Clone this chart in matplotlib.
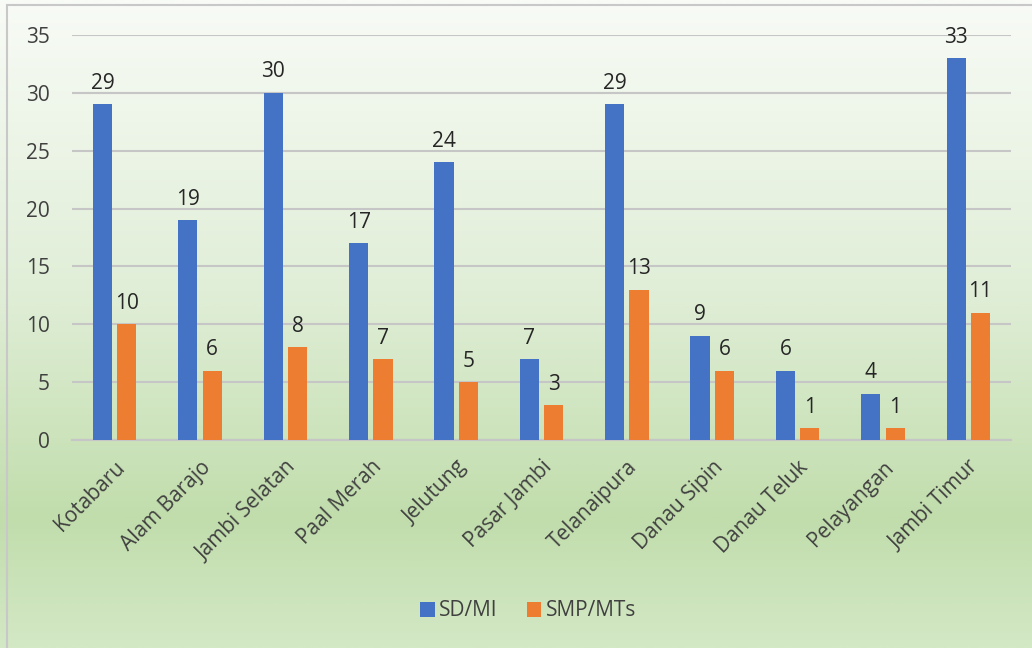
import numpy as np
import matplotlib
matplotlib.use("Agg")
import matplotlib.pyplot as plt
from matplotlib.colors import LinearSegmentedColormap
from matplotlib.patches import Rectangle, Patch

plt.rcParams['font.family'] = ['Open Sans', 'DejaVu Sans']

categories = ["Kotabaru", "Alam Barajo", "Jambi Selatan", "Paal Merah", "Jelutung",
              "Pasar Jambi", "Telanaipura", "Danau Sipin", "Danau Teluk",
              "Pelayangan", "Jambi Timur"]
sd_mi = [29, 19, 30, 17, 24, 7, 29, 9, 6, 4, 33]
smp_mts = [10, 6, 8, 7, 5, 3, 13, 6, 1, 1, 11]
series_names = ["SD/MI", "SMP/MTs"]
colors = ["#4472C4", "#ED7D31"]
yticks = [0, 5, 10, 15, 20, 25, 30, 35]

FS = 15
W, H = 1032, 648
fig = plt.figure(figsize=(W / 100, H / 100), dpi=100)

# background gradient
bg = fig.add_axes([0, 0, 1, 1], zorder=0)
bg.set_axis_off()
cmap = LinearSegmentedColormap.from_list(
    "bg", [(0.0, "#f8fbf6"), (0.45, "#e0eed7"), (0.80, "#c1ddac"), (1.0, "#d3e8c5")])
grad = np.linspace(0, 1, 512).reshape(-1, 1)
bg.imshow(grad, aspect="auto", cmap=cmap, extent=[0, 1, 0, 1], origin="upper")
bg.set_xlim(0, 1)
bg.set_ylim(0, 1)
bg.add_patch(Rectangle((7 / W, -0.01), 1.01 - 7 / W, 1 - 5 / H + 0.01,
                       fill=False, edgecolor="#c8c8c8", linewidth=1.5))

ax = fig.add_axes([72 / W, 1 - 440 / H, (1011 - 72) / W, (440 - 35) / H], zorder=1)
ax.patch.set_alpha(0)

x = np.arange(len(categories))
bw = 0.225
gap = 0.06
off = bw / 2 + gap / 2
b1 = ax.bar(x - off, sd_mi, bw, color=colors[0], zorder=3)
b2 = ax.bar(x + off, smp_mts, bw, color=colors[1], zorder=3)

for bars, vals in ((b1, sd_mi), (b2, smp_mts)):
    for r, v in zip(bars, vals):
        ax.text(r.get_x() + r.get_width() / 2, v + 0.9, str(v), ha="center", va="bottom",
                fontsize=FS, color="#262626")

ax.set_xlim(-0.5, len(categories) - 0.5)
ax.set_ylim(0, 35)
ax.set_yticks(yticks)
ax.set_yticklabels([str(t) for t in yticks], fontsize=FS, color="#404040")
ax.yaxis.grid(True, color="#c6c6c6", linewidth=1.5, zorder=0)
ax.set_axisbelow(True)
for s in ("top", "right", "left"):
    ax.spines[s].set_visible(False)
ax.spines["bottom"].set_color("#c6c6c6")
ax.spines["bottom"].set_linewidth(1.5)
ax.tick_params(axis="both", length=0)
ax.tick_params(axis="y", pad=16)
ax.set_xticks(x)
ax.set_xticklabels(categories, rotation=45, ha="right", rotation_mode="anchor",
                   fontsize=FS, color="#404040")
ax.tick_params(axis="x", pad=12)

handles = [Patch(facecolor=c, label=n) for c, n in zip(colors, series_names)]
fig.legend(handles=handles, loc="center", bbox_to_anchor=(528 / W, 1 - 611 / H), ncol=2,
           frameon=False, fontsize=FS, handlelength=0.7, handleheight=0.7,
           handletextpad=0.2, columnspacing=1.4, labelcolor="#404040")

fig.savefig("out.png", dpi=100)
